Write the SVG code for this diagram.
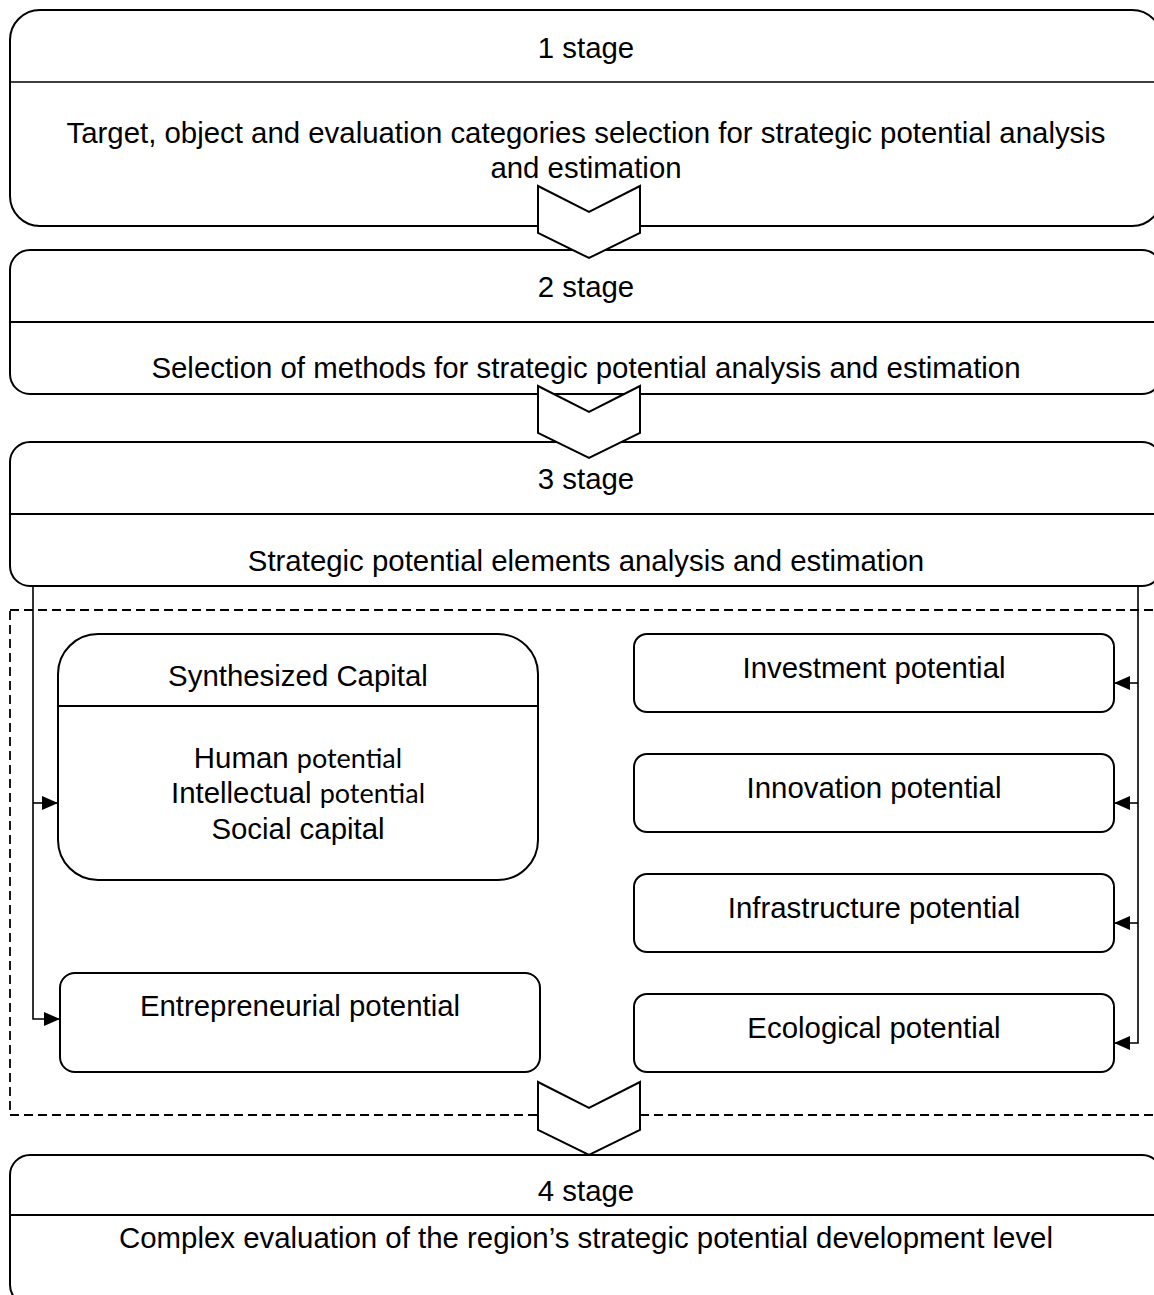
<svg xmlns="http://www.w3.org/2000/svg" width="1154" height="1295" viewBox="0 0 1154 1295">
<style>
.box{fill:#fff;stroke:#000;stroke-width:2}
.div{stroke:#000;stroke-width:2}
.t{font-family:"Liberation Sans",Arial,sans-serif;font-size:29.4px;fill:#000;text-anchor:middle}
.c{font-family:Lato,"Open Sans",sans-serif;font-size:27px}
.con{fill:none;stroke:#000;stroke-width:1.6}
.chev{fill:#fff;stroke:#000;stroke-width:2}
.dash{fill:none;stroke:#000;stroke-width:1.8;stroke-dasharray:9 5}
</style>
<defs>
<marker id="a" viewBox="0 0 16 14" refX="16" refY="7" markerWidth="16" markerHeight="14" markerUnits="userSpaceOnUse" orient="auto">
<path d="M0,0 L16,7 L0,14 Z" fill="#000"/>
</marker>
</defs>

<rect class="dash" x="10" y="610" width="1152" height="505"/>

<g id="stage1">
<rect class="box" x="10" y="10" width="1152" height="216" rx="30" ry="30"/>
<line class="div" x1="10" y1="82" x2="1162" y2="82" style="stroke-width:1.6"/>
<text class="t" x="586" y="58">1 stage</text>
<text class="t" x="586" y="143">Target, object and evaluation categories selection for strategic potential analysis</text>
<text class="t" x="586" y="178">and estimation</text>
</g>

<g id="stage2">
<rect class="box" x="10" y="250" width="1152" height="144" rx="20" ry="20"/>
<line class="div" x1="10" y1="322" x2="1162" y2="322"/>
<text class="t" x="586" y="297">2 stage</text>
<text class="t" x="586" y="378">Selection of methods for strategic potential analysis and estimation</text>
</g>

<g id="stage3">
<rect class="box" x="10" y="442" width="1152" height="144" rx="20" ry="20"/>
<line class="div" x1="10" y1="514" x2="1162" y2="514"/>
<text class="t" x="586" y="489">3 stage</text>
<text class="t" x="586" y="571">Strategic potential elements analysis and estimation</text>
</g>

<g id="stage4">
<rect class="box" x="10" y="1155" width="1152" height="150" rx="20" ry="20"/>
<line class="div" x1="10" y1="1215" x2="1162" y2="1215"/>
<text class="t" x="586" y="1201">4 stage</text>
<text class="t" x="586" y="1248">Complex evaluation of the region’s strategic potential development level</text>
</g>

<g id="synth">
<rect class="box" x="58" y="634" width="480" height="246" rx="40" ry="40"/>
<line class="div" x1="58" y1="706" x2="538" y2="706"/>
<text class="t" x="298" y="686">Synthesized Capital</text>
<text class="t" x="298" y="768">Human <tspan class="c">potential</tspan></text>
<text class="t" x="298" y="803">Intellectual <tspan class="c">potential</tspan></text>
<text class="t" x="298" y="839">Social capital</text>
</g>

<g id="entre">
<rect class="box" x="60" y="973" width="480" height="99" rx="15" ry="15"/>
<text class="t" x="300" y="1016">Entrepreneurial potential</text>
</g>

<g id="invest">
<rect class="box" x="634" y="634" width="480" height="78" rx="13" ry="13"/>
<text class="t" x="874" y="678">Investment potential</text>
</g>
<g id="innov">
<rect class="box" x="634" y="754" width="480" height="78" rx="13" ry="13"/>
<text class="t" x="874" y="798">Innovation potential</text>
</g>
<g id="infra">
<rect class="box" x="634" y="874" width="480" height="78" rx="13" ry="13"/>
<text class="t" x="874" y="918">Infrastructure potential</text>
</g>
<g id="eco">
<rect class="box" x="634" y="994" width="480" height="78" rx="13" ry="13"/>
<text class="t" x="874" y="1038">Ecological potential</text>
</g>

<g id="connectors">
<polyline class="con" points="33,587 33,1019 60,1019" marker-end="url(#a)"/>
<line class="con" x1="33" y1="803" x2="58" y2="803" marker-end="url(#a)"/>
<polyline class="con" points="1138,587 1138,1043 1114,1043" marker-end="url(#a)"/>
<line class="con" x1="1138" y1="683" x2="1114" y2="683" marker-end="url(#a)"/>
<line class="con" x1="1138" y1="803" x2="1114" y2="803" marker-end="url(#a)"/>
<line class="con" x1="1138" y1="923" x2="1114" y2="923" marker-end="url(#a)"/>
<polygon class="chev" points="538,186 589,212 640,186 640,233 589,258 538,233"/>
<polygon class="chev" points="538,386 589,412 640,386 640,433 589,458 538,433"/>
<polygon class="chev" points="538,1082 589,1108 640,1082 640,1130 589,1155 538,1130"/>
</g>
</svg>
